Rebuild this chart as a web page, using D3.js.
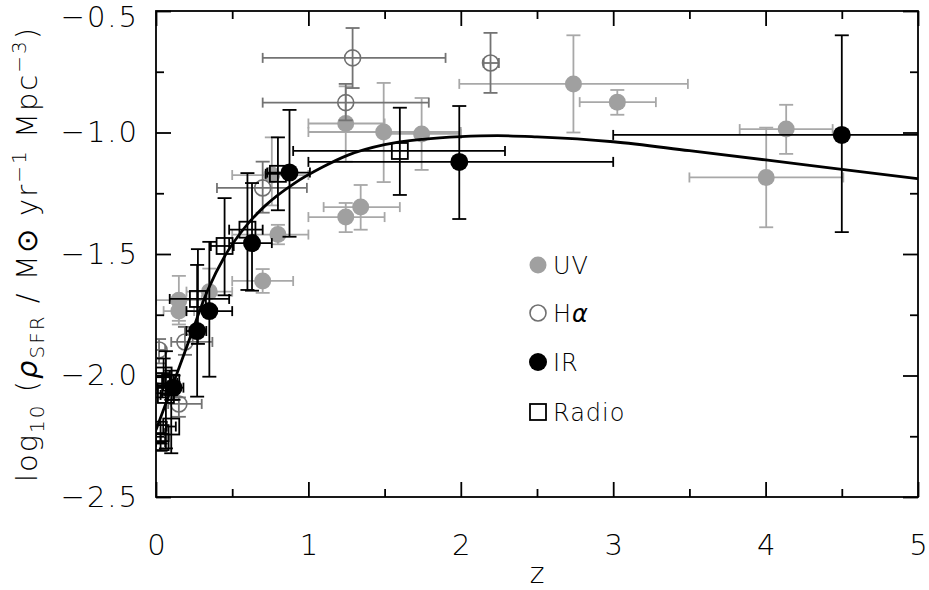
<!DOCTYPE html>
<html><head><meta charset="utf-8">
<script src="https://cdn.jsdelivr.net/npm/d3@7"></script>
<style>
body{margin:0;background:#fff;}
svg{display:block;font-family:"DejaVu Sans",sans-serif;font-weight:200;}
</style></head><body>
<svg id="c" width="929" height="590"></svg>
<script>
// ---- data ----
const xTicks = [0, 1, 2, 3, 4, 5];
const xMinor = [0.5, 1.5, 2.5, 3.5, 4.5];
const yTicks = [-2.5, -2.0, -1.5, -1.0, -0.5];
const yMinor = [-2.25, -1.75, -1.25, -0.75];

// rows: [z, log rho, zLow, zHigh, logLow, logHigh]
const uvData = [
  [0.15, -1.69, 0.0, 0.30, -1.79, -1.59],
  [0.15, -1.735, 0.05, 0.25, -1.775, -1.695],
  [0.35, -1.655, 0.2, 0.5, -1.72, -1.56],
  [0.70, -1.611, 0.5, 0.9, -1.66, -1.562],
  [0.80, -1.42, 0.5, 1.0, -1.46, -1.38],
  [0.76, -1.175, 0.5, 1.0, -1.30, -1.02],
  [1.245, -0.963, 1.0, 1.5, -1.12, -0.81],
  [1.494, -0.998, 1.0, 2.0, -1.204, -0.796],
  [1.743, -1.006, 1.5, 2.0, -1.154, -0.858],
  [2.739, -0.80, 1.99, 3.49, -1.0, -0.60],
  [3.027, -0.875, 2.78, 3.28, -0.927, -0.825],
  [4.135, -0.986, 3.83, 4.44, -1.088, -0.886],
  [4.004, -1.185, 3.5, 4.51, -1.39, -0.98],
  [1.245, -1.348, 1.0, 1.5, -1.41, -1.29],
  [1.343, -1.307, 1.1, 1.6, -1.40, -1.216]
];
const haData = [
  [0.02, -1.895, 0.0, 0.06, -1.95, -1.85],
  [0.19, -1.862, 0.1, 0.37, -1.915, -1.80],
  [0.15, -2.117, 0.08, 0.30, -2.17, -2.09],
  [0.70, -1.228, 0.4, 0.99, -1.33, -1.12],
  [1.245, -0.877, 0.7, 1.79, -0.95, -0.80],
  [1.29, -0.693, 0.7, 1.9, -0.817, -0.57],
  [2.195, -0.714, 2.15, 2.25, -0.837, -0.59]
];
const irData = [
  [0.115, -2.05, 0.01, 0.18, -2.10, -2.0],
  [0.27, -1.817, 0.2, 0.33, -2.087, -1.545],
  [0.35, -1.735, 0.2, 0.5, -2.005, -1.45],
  [0.63, -1.455, 0.48, 0.76, -1.651, -1.208],
  [0.876, -1.165, 0.73, 1.01, -1.429, -0.907],
  [1.99, -1.121, 1.0, 3.0, -1.356, -0.891],
  [4.5, -1.01, 3.0, 5.5, -1.41, -0.60]
];
const radioData = [
  [1.6, -1.076, 0.9, 2.29, -1.257, -0.898],
  [0.80, -1.17, 0.72, 0.88, -1.32, -1.02],
  [0.60, -1.40, 0.48, 0.70, -1.648, -1.167],
  [0.45, -1.467, 0.36, 0.51, -1.67, -1.27],
  [0.275, -1.685, 0.09, 0.48, -1.87, -1.48],
  [0.05, -2.00, 0.0, 0.09, -2.05, -1.93],
  [0.04, -2.04, 0.0, 0.08, -2.09, -1.99],
  [0.10, -2.03, 0.06, 0.14, -2.08, -1.98],
  [0.065, -2.08, 0.03, 0.10, -2.30, -1.90],
  [0.10, -2.21, 0.07, 0.13, -2.32, -2.10],
  [0.03, -2.237, 0.0, 0.06, -2.28, -2.19],
  [0.03, -2.274, 0.0, 0.06, -2.31, -2.24]
];
const fitZ = [0, 0.1, 0.2, 0.34, 0.45, 0.58, 0.71, 0.91, 1.1, 1.26, 1.5, 1.75, 2.0, 2.24, 2.5, 3.0, 3.5, 4.0, 4.5, 5.0];
const fitV = [-2.224, -2.055, -1.885, -1.648, -1.51, -1.393, -1.305, -1.208, -1.14, -1.093, -1.05, -1.028, -1.017, -1.013, -1.018, -1.038, -1.075, -1.113, -1.152, -1.19];
const legendLabels = ["UV", "Hα", "IR", "Radio"];

// ---- drawing ----
const svg = d3.select("#c");
const L = 156, R = 918, T = 11, B = 497;
const x = d3.scaleLinear().domain([0, 5]).range([L, R]);
const y = d3.scaleLinear().domain([-2.5, -0.5]).range([B, T]);

svg.append("defs").append("clipPath").attr("id", "clip")
  .append("rect").attr("x", L).attr("y", T).attr("width", R - L).attr("height", B - T);

const plot = svg.append("g").attr("clip-path", "url(#clip)");

function drawSeries(data, barColor, marker) {
  const g = plot.append("g");
  data.forEach(d => {
    const [z, v, z0, z1, v0, v1] = d;
    const cx = x(z), cy = y(v);
    const sw = 1.8;
    g.append("line").attr("x1", x(z0)).attr("x2", x(z1)).attr("y1", cy).attr("y2", cy)
      .attr("stroke", barColor).attr("stroke-width", sw);
    [z0, z1].forEach(zz => g.append("line").attr("x1", x(zz)).attr("x2", x(zz))
      .attr("y1", cy - 5).attr("y2", cy + 5).attr("stroke", barColor).attr("stroke-width", sw));
    g.append("line").attr("x1", cx).attr("x2", cx).attr("y1", y(v0)).attr("y2", y(v1))
      .attr("stroke", barColor).attr("stroke-width", sw);
    [v0, v1].forEach(vv => g.append("line").attr("x1", cx - 7).attr("x2", cx + 7)
      .attr("y1", y(vv)).attr("y2", y(vv)).attr("stroke", barColor).attr("stroke-width", sw));
  });
  data.forEach(d => marker(g, x(d[0]), y(d[1])));
}
const mUV = (g, cx, cy) => g.append("circle").attr("cx", cx).attr("cy", cy).attr("r", 8.5).attr("fill", "#a0a0a0");
const mHa = (g, cx, cy) => g.append("circle").attr("cx", cx).attr("cy", cy).attr("r", 8).attr("fill", "none").attr("stroke", "#707070").attr("stroke-width", 1.6);
const mIR = (g, cx, cy) => g.append("circle").attr("cx", cx).attr("cy", cy).attr("r", 9).attr("fill", "#000");
const mRadio = (g, cx, cy) => g.append("rect").attr("x", cx - 8).attr("y", cy - 8).attr("width", 16).attr("height", 16).attr("fill", "none").attr("stroke", "#000").attr("stroke-width", 1.8);

drawSeries(uvData, "#a8a8a8", mUV);
drawSeries(haData, "#737373", mHa);
drawSeries(radioData, "#000", mRadio);
drawSeries(irData, "#000", mIR);

const fit = fitZ.map((z, i) => [z, fitV[i]]);
plot.append("path").datum(fit)
  .attr("d", d3.line().x(d => x(d[0])).y(d => y(d[1])).curve(d3.curveMonotoneX))
  .attr("fill", "none").attr("stroke", "#000").attr("stroke-width", 2.8);

// ---- axes ----
const axStyle = g => {
  g.select(".domain").remove();
  g.selectAll(".tick line").attr("stroke", "#000").attr("stroke-width", 1.8);
  g.selectAll("text").attr("fill", "#000").style("font-size", "29px").attr("font-family", "DejaVu Sans").attr("font-weight", 200);
};
svg.append("g").attr("transform", `translate(0,${B})`)
  .call(d3.axisBottom(x).tickValues(xTicks).tickSize(-15).tickPadding(37).tickFormat(d3.format("d"))).call(axStyle);
svg.append("g").attr("transform", `translate(0,${B})`)
  .call(d3.axisBottom(x).tickValues(xMinor).tickSize(-8).tickFormat("")).call(axStyle);
svg.append("g").attr("transform", `translate(0,${T})`)
  .call(d3.axisTop(x).tickValues(xTicks).tickSize(-15).tickFormat("")).call(axStyle);
svg.append("g").attr("transform", `translate(0,${T})`)
  .call(d3.axisTop(x).tickValues(xMinor).tickSize(-8).tickFormat("")).call(axStyle);
const yAx = svg.append("g").attr("transform", `translate(${L},0)`)
  .call(d3.axisLeft(y).tickValues(yTicks).tickSize(-15).tickPadding(17).tickFormat(d3.format(".1f"))).call(axStyle);
yAx.selectAll("text").style("letter-spacing", "2px");
yAx.selectAll(".tick").filter(d => d === -0.5).select("text").attr("dy", "0.55em");
svg.append("g").attr("transform", `translate(${L},0)`)
  .call(d3.axisLeft(y).tickValues(yMinor).tickSize(-8).tickFormat("")).call(axStyle);
svg.append("g").attr("transform", `translate(${R},0)`)
  .call(d3.axisRight(y).tickValues(yTicks).tickSize(-15).tickFormat("")).call(axStyle);
svg.append("g").attr("transform", `translate(${R},0)`)
  .call(d3.axisRight(y).tickValues(yMinor).tickSize(-8).tickFormat("")).call(axStyle);

svg.append("rect").attr("x", L).attr("y", T).attr("width", R - L).attr("height", B - T)
  .attr("fill", "none").attr("stroke", "#000").attr("stroke-width", 1.8);

// ---- titles ----
svg.append("text").attr("x", (L + R) / 2).attr("y", 583).attr("text-anchor", "middle")
  .style("font-size", "28px").text("z");

const yt = svg.append("text").attr("transform", `translate(37,${(T + B) / 2}) rotate(-90)`)
  .attr("text-anchor", "middle").style("font-size", "29px").style("letter-spacing", "2px");
yt.append("tspan").text("log");
yt.append("tspan").attr("dy", 7).style("font-size", "20px").text("10");
yt.append("tspan").attr("dy", -7).text(" (");
yt.append("tspan").style("font-style", "italic").text("ρ");
yt.append("tspan").attr("dy", 7).style("font-size", "20px").text("SFR");
yt.append("tspan").attr("dy", -7).text(" / M");
yt.append("tspan").text("⊙");
yt.append("tspan").text(" yr");
yt.append("tspan").attr("dy", -11).style("font-size", "20px").text("−1");
yt.append("tspan").attr("dy", 11).text(" Mpc");
yt.append("tspan").attr("dy", -11).style("font-size", "20px").text("−3");
yt.append("tspan").attr("dy", 11).text(")");

// ---- legend ----
const legY = [265, 313, 362, 412];
const legMarkers = [mUV, mHa, mIR, mRadio];
const lg = svg.append("g");
legendLabels.forEach((lab, i) => {
  legMarkers[i](lg, 538, legY[i]);
  const t = lg.append("text").attr("x", 553).attr("y", legY[i] + 9).style("font-size", "24px").style("letter-spacing", "1px");
  if (lab === "Hα") { t.append("tspan").text("H"); t.append("tspan").style("font-style", "italic").text("α"); }
  else t.text(lab);
});
</script>
</body></html>
